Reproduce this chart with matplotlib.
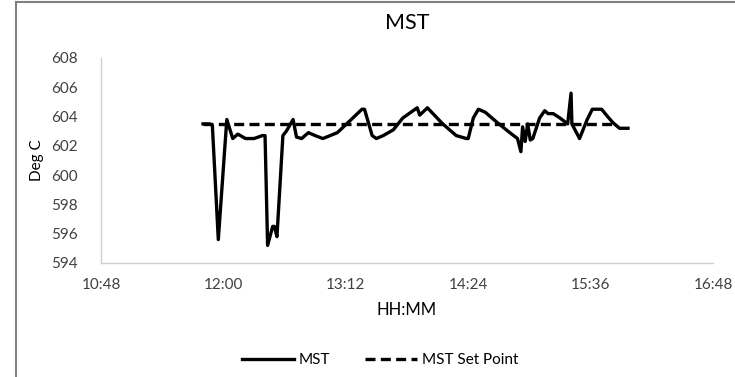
import matplotlib
matplotlib.use("Agg")
import matplotlib.pyplot as plt
from matplotlib.lines import Line2D
from matplotlib.ticker import FuncFormatter, FixedLocator

plt.rcParams['font.family'] = ['Lato', 'DejaVu Sans']

# time in minutes since midnight
mst_time = [708, 712, 713.5, 717, 722, 725.5, 728.5, 733, 738, 743, 744.5, 746, 749, 750, 751.5,
            755, 757, 761, 763, 766, 770, 774, 778.5, 787, 792.5, 801.5, 803, 807.5, 810,
            814, 820, 825.5, 834, 835.5, 840, 849, 857, 863, 864, 867, 870, 874, 881, 888.5,
            893, 895, 896, 897.5, 899, 900.5, 902, 906, 909, 911, 914, 918, 922.5, 924.5,
            925, 929.5, 934, 937, 942.5, 946, 949, 953, 958]
mst_value = [603.5, 603.5, 603.4, 595.6, 603.8, 602.5, 602.8, 602.5, 602.5, 602.7, 602.7, 595.2,
             596.5, 596.5, 595.8, 602.7, 603.0, 603.8, 602.6, 602.5, 602.9, 602.7, 602.5, 602.9,
             603.5, 604.5, 604.5, 602.7, 602.5, 602.7, 603.1, 603.9, 604.6, 604.1, 604.6, 603.5,
             602.7, 602.5, 602.5, 603.9, 604.5, 604.3, 603.6, 602.9, 602.5, 601.6, 603.3, 602.3,
             603.5, 602.4, 602.5, 603.9, 604.4, 604.2, 604.2, 603.9, 603.5, 605.6, 603.5, 602.5,
             603.8, 604.5, 604.5, 604.0, 603.6, 603.2, 603.2]
setpoint_time = [708, 950]
setpoint_value = [603.5, 603.5]

x_ticks = [648, 720, 792, 864, 936, 1008]
y_ticks = [594, 596, 598, 600, 602, 604, 606, 608]

W, H = 735, 377
fig = plt.figure(figsize=(W / 100, H / 100), dpi=100)
ax = fig.add_axes([101 / W, 1 - 263 / H, (713 - 101) / W, (263 - 58) / H])

ax.plot(mst_time, mst_value, color='black', lw=2.4, label='MST', solid_joinstyle='round')
ax.plot(setpoint_time, setpoint_value, color='black', lw=2.4, ls=(0, (3.0, 1.6)), label='MST Set Point')

ax.set_xlim(648, 1008)
ax.set_ylim(594, 608)
ax.xaxis.set_major_locator(FixedLocator(x_ticks))
ax.yaxis.set_major_locator(FixedLocator(y_ticks))
ax.xaxis.set_major_formatter(FuncFormatter(lambda v, p: f"{int(v)//60}:{int(v)%60:02d}"))

for s in ['top', 'right']:
    ax.spines[s].set_visible(False)
for s in ['left', 'bottom']:
    ax.spines[s].set_color('#d0d0d0')
    ax.spines[s].set_linewidth(1.0)
ax.tick_params(length=0, labelsize=11, colors='#404040')
ax.tick_params(axis='y', pad=17)
ax.tick_params(axis='x', pad=11)

ax.set_title('MST', fontsize=15.5, color='black', pad=21)
ax.set_ylabel('Deg C', fontsize=11, color='black', labelpad=5)
ax.set_xlabel('HH:MM', fontsize=12, color='black', labelpad=7)

leg = fig.legend(loc='center', bbox_to_anchor=(380 / W, 1 - 360 / H), ncol=2, frameon=False,
                 fontsize=11, handlelength=3.4, columnspacing=2.3, handletextpad=0.3)

# outer frame
fig.add_artist(Line2D([16 / W, 1], [1 - 2 / H, 1 - 2 / H], color='#808080', lw=1.5, transform=fig.transFigure))
fig.add_artist(Line2D([16 / W, 16 / W], [0, 1 - 2 / H], color='#808080', lw=1.5, transform=fig.transFigure))

fig.savefig('out.png', dpi=100)
